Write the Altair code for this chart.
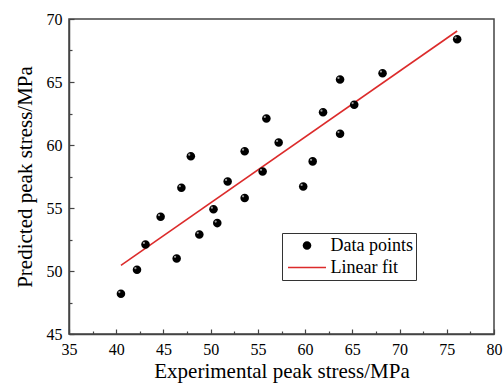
import altair as alt
import pandas as pd

# ---- data ----
exp_stress = [40.5, 42.2, 43.1, 44.7, 46.4, 46.9, 47.9, 48.8, 50.3, 50.7, 51.8, 53.6,
              53.6, 55.5, 55.9, 57.2, 59.8, 60.8, 61.9, 63.7, 63.7, 65.2, 68.2, 76.1]
pred_stress = [48.2, 50.1, 52.1, 54.3, 51.0, 56.6, 59.1, 52.9, 54.9, 53.8, 57.1, 59.5,
               55.8, 57.9, 62.1, 60.2, 56.7, 58.7, 62.6, 65.2, 60.9, 63.2, 65.7, 68.4]
fit_x = [40.5, 76.1]
fit_y = [50.45, 69.05]
series_names = ["Data points", "Linear fit"]
x_major = [35, 40, 45, 50, 55, 60, 65, 70, 75, 80]
x_minor = [37.5, 42.5, 47.5, 52.5, 57.5, 62.5, 67.5, 72.5, 77.5]
y_major = [45, 50, 55, 60, 65, 70]
y_minor = [47.5, 52.5, 57.5, 62.5, 67.5]

pts = pd.DataFrame({"x": exp_stress, "y": pred_stress, "series": series_names[0]})
fit = pd.DataFrame({"x": fit_x, "y": fit_y, "series": series_names[1]})

FONT = "Liberation Serif"
AX = "#444444"
RED = "#dc2b2b"

circle_path = "M-0.45,0 A0.45,0.45 0 1,0 0.45,0 A0.45,0.45 0 1,0 -0.45,0 Z"
line_path = "M-2,-0.08 L2,-0.08 L2,0.08 L-2,0.08 Z"

color_scale = alt.Scale(domain=series_names, range=["#000000", RED])
shape_scale = alt.Scale(domain=series_names, range=[circle_path, line_path])

x_scale = alt.Scale(domain=[35, 80], nice=False, zero=False)
y_scale = alt.Scale(domain=[45, 70], nice=False, zero=False)


def major_axis(values, title, orient, title_pad):
    return alt.Axis(
        values=values, format="d", tickSize=alt.ExprRef(expr="-5"), orient=orient,
        title=title, grid=False,
        labelFont=FONT, labelFontSize=16, labelColor="black", labelPadding=12,
        titleFont=FONT, titleFontSize=21, titleFontWeight="normal", titleColor="black",
        titlePadding=title_pad, domainColor=AX, domainWidth=1.5, tickColor=AX, tickWidth=1.2,
        labelFlush=False, labelOverlap=False,
    )


def minor_axis(values, orient):
    return alt.Axis(
        values=values, tickSize=alt.ExprRef(expr="-3"), orient=orient, title=None,
        labels=False, domain=False, grid=False, tickColor=AX, tickWidth=1.2,
    )


legend_kw = dict(
    orient="none", legendX=213, legendY=214, title=None, direction="vertical",
    labelFont=FONT, labelFontSize=18, labelColor="black",
    padding=3, symbolOffset=12.5, labelOffset=14, rowPadding=3,
    strokeColor="#333333", fillColor="white", symbolSize=361, symbolStrokeWidth=0,
    labelExpr="datum.label + '\u00a0\u00a0'",
)

line = alt.Chart(fit).mark_line(strokeWidth=1.6, color=RED).encode(
    x=alt.X("x:Q", scale=x_scale, axis=None),
    y=alt.Y("y:Q", scale=y_scale, axis=None),
)

points = alt.Chart(pts).mark_point(filled=True, size=361, opacity=1, strokeWidth=0).encode(
    x=alt.X("x:Q", scale=x_scale,
            axis=major_axis(x_major, "Experimental peak stress/MPa", "bottom", 3)),
    y=alt.Y("y:Q", scale=y_scale,
            axis=major_axis(y_major, "Predicted peak stress/MPa", "left", 11)),
    color=alt.Color("series:N", scale=color_scale, legend=alt.Legend(**legend_kw)),
    shape=alt.Shape("series:N", scale=shape_scale, legend=alt.Legend(**legend_kw)),
)

# small glossy highlight on each sphere
shine = alt.Chart(pts).mark_point(
    filled=True, size=5, opacity=0.75, color="#d0d0d0", strokeWidth=0,
    xOffset=-1.6, yOffset=-1.6,
).encode(
    x=alt.X("x:Q", scale=x_scale, axis=None),
    y=alt.Y("y:Q", scale=y_scale, axis=None),
)

minor = alt.Chart(pts).mark_point(opacity=0).encode(
    x=alt.X("x:Q", scale=x_scale, axis=minor_axis(x_minor, "bottom")),
    y=alt.Y("y:Q", scale=y_scale, axis=minor_axis(y_minor, "left")),
)

chart = alt.layer(line, points, shine, minor).resolve_axis(
    x="independent", y="independent"
).properties(
    width=425, height=315,
    autosize=alt.AutoSizeParams(type="none"),
    padding={"left": 69, "top": 19, "right": 10, "bottom": 51},
    background="white",
).configure_view(stroke=AX, strokeWidth=1.5)

chart.save("out.html", embed_options={"renderer": "svg", "actions": False})
